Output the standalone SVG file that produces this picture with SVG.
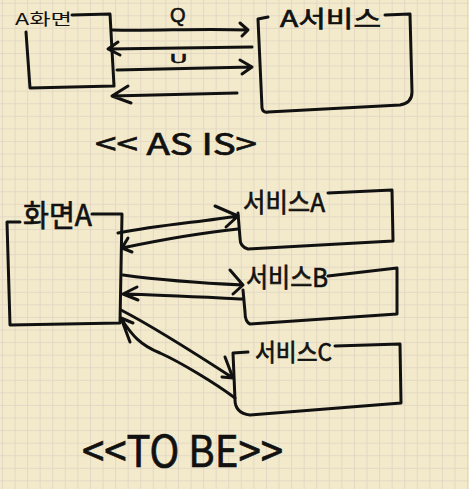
<svg xmlns="http://www.w3.org/2000/svg" width="469" height="489" viewBox="0 0 469 489">
  <defs>
    <pattern id="grid" patternUnits="userSpaceOnUse" x="2" y="2.7" width="12.57" height="12.57">
      <path d="M0,0 H12.57 M0,0 V12.57" fill="none" stroke="#E0D4C4" stroke-width="1.6"/>
    </pattern>
    <style>
      .ink { fill: none; stroke: #111; stroke-width: 3; stroke-linecap: round; stroke-linejoin: round; }
      .hand { font-family: "Noto Sans CJK KR", "Liberation Sans", sans-serif; fill: #111; stroke: #111; stroke-width: 0.7; }
      .latin { font-family: "Liberation Sans", sans-serif; fill: #111; stroke: #111; stroke-width: 0.6; }
      .typed { font-family: "Noto Sans CJK KR", "Liberation Sans", sans-serif; fill: #111; font-size: 16px; }
    </style>
  </defs>
  <rect x="0" y="0" width="469" height="489" fill="#F2EACB"/>
  <rect x="0" y="0" width="469" height="489" fill="url(#grid)"/>

  <!-- AS IS -->
  <g id="screen-a-asis">
    <text class="typed" x="15" y="25" textLength="57" lengthAdjust="spacingAndGlyphs">A화면</text>
    <path class="ink" d="M72,15 L110,14 L114,86 L30,88 L26,32"/>
  </g>
  <g id="service-a-asis">
    <text class="hand" x="280" y="27" font-size="23" textLength="101" lengthAdjust="spacingAndGlyphs">A서비스</text>
    <path class="ink" d="M268,17 L258,19 L262,108 Q263,113 268,112 L400,105 Q412,103 412,92 L410,14 L385,15"/>
  </g>

  <g id="label-asis">
    <text class="hand" x="95" y="155" font-size="30" textLength="162" lengthAdjust="spacingAndGlyphs">&lt;&lt; AS IS&gt;</text>
  </g>

  <!-- TO BE -->
  <g id="screen-a-tobe">
    <text class="hand" x="23" y="226" font-size="30" textLength="69" lengthAdjust="spacingAndGlyphs">화면A</text>
    <path class="ink" d="M20,222 L7,222 L10,325 L120,323 L122,214 L92,214"/>
  </g>
  <g id="service-a">
    <text class="hand" x="243" y="212" font-size="26" textLength="82" lengthAdjust="spacingAndGlyphs">서비스A</text>
    <path class="ink" d="M328,193 L392,190 L393,241 L248,249 Q240,247 240,238 L238,213"/>
  </g>
  <g id="service-b">
    <text class="hand" x="246" y="287" font-size="26" textLength="82" lengthAdjust="spacingAndGlyphs">서비스B</text>
    <path class="ink" d="M328,276 L397,268 L397,314 L250,324 Q245,322 245,312 L243,290"/>
  </g>
  <g id="service-c">
    <text class="hand" x="255" y="361" font-size="24" textLength="77" lengthAdjust="spacingAndGlyphs">서비스C</text>
    <path class="ink" d="M335,346 L400,344 L401,403 L250,415 Q235,413 235,400 L233,353 L248,352"/>
  </g>

  <g id="label-tobe">
    <text class="hand" x="82" y="467" font-size="44" textLength="201" lengthAdjust="spacingAndGlyphs">&lt;&lt;TO BE&gt;&gt;</text>
  </g>

  <g id="connectors">
    <!-- AS IS -->
    <path class="ink" d="M113,30 C160,31 200,28 248,30 M240,23 L248,30 L242,36"/>
    <text class="latin" x="170" y="22" font-size="20">Q</text>
    <path class="ink" d="M252,47 L108,49 M118,42 L108,49 L120,55"/>
    <text class="latin" x="170" y="63" font-size="13" textLength="17" lengthAdjust="spacingAndGlyphs">U</text>
    <path class="ink" d="M117,70 L252,67 M240,60 L252,67 L242,74"/>
    <path class="ink" d="M237,93 L112,96 M128,86 L112,96 L131,103"/>
    <!-- TO BE -->
    <path class="ink" d="M118,233 C160,225 200,222 238,216 M215,206 L238,216 L226,227"/>
    <path class="ink" d="M238,229 C200,233 160,240 122,248 M128,238 L122,248 L132,252"/>
    <path class="ink" d="M123,275 C160,280 200,283 243,285 M230,270 L243,285 L233,294"/>
    <path class="ink" d="M243,299 C200,297 160,295 123,294 M137,287 L123,294 L138,300"/>
    <path class="ink" d="M121,310 C150,325 190,350 233,378 M225,357 L233,378 L222,377"/>
    <path class="ink" d="M235,398 C215,383 180,362 160,353 C140,345 132,335 122,320 M130,342 L121,318 L133,323"/>
  </g>
</svg>
